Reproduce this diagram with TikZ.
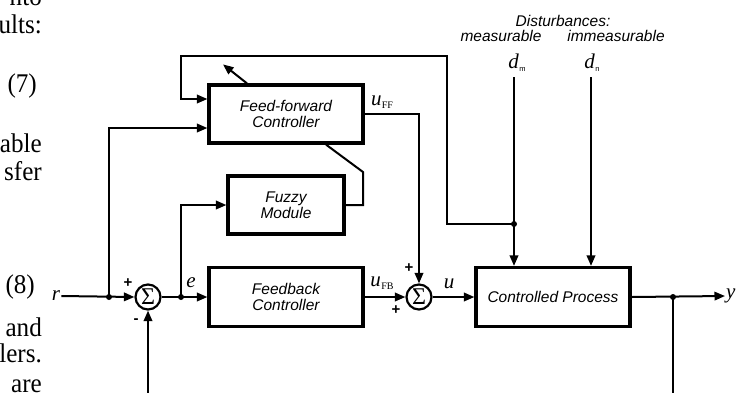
\documentclass[tikz,border=0pt]{standalone}
\usepackage{fontspec}
\setmainfont{Liberation Serif}
\setsansfont{Liberation Sans}
\usetikzlibrary{arrows.meta,calc}
\newcommand{\lbl}[2]{\textit{#1}\kern0.3pt\raisebox{-3pt}{\fontsize{10}{10}\selectfont #2}}
\newcommand{\dlbl}[2]{\textit{#1}\kern0.5pt\raisebox{-3pt}{\sffamily\fontsize{7.5}{7.5}\selectfont #2}}
\begin{document}
\begin{tikzpicture}[x=1pt,y=-1pt,
  blk/.style={draw, line width=3.2pt, align=center, inner sep=0pt,
    font=\sffamily\itshape\fontsize{15.5}{15.5}\selectfont},
  sumnode/.style={draw, circle, line width=2.2pt, minimum size=25pt, inner sep=0pt,
    font=\fontsize{24}{24}\selectfont},
  conn/.style={line width=2pt},
  arr/.style={conn, -{Triangle[length=10.5pt,width=8.5pt]}},
  jdot/.style={circle, fill, inner sep=0pt, minimum size=6pt},
  mathl/.style={font=\fontsize{21}{21}\selectfont, inner sep=1pt},
  sgn/.style={font=\sffamily\bfseries\fontsize{15}{15}\selectfont, inner sep=0pt},
  dist/.style={font=\sffamily\itshape\fontsize{15.5}{16}\selectfont, inner sep=0pt, anchor=base},
  page/.style={font=\fontsize{27}{28}\selectfont, inner sep=0pt, anchor=base east,
    xscale=0.93, transform shape}]
\useasboundingbox[fill=white] (0,0) rectangle (739,392);

% fragments of the surrounding page text
\node[page] (t1) at (42,5) {nto};
\node[page] (t2) at (42,33) {ults:};
\node[page] (t3) at (37,92) {(7)};
\node[page] (t4) at (42,152) {able};
\node[page] (t5) at (42,180) {sfer};
\node[page] (t6) at (35,293) {(8)};
\node[page] (t7) at (42,336) {and};
\node[page] (t8) at (42,362) {lers.};
\node[page] (t9) at (42,392) {are};

% blocks
\node[blk, minimum width=154pt, minimum height=58pt] (ff) at (286,114) {Feed-forward\\Controller};
\node[blk, minimum width=116pt, minimum height=58pt] (fz) at (286,205) {Fuzzy\\Module};
\node[blk, minimum width=154pt, minimum height=59pt] (fb) at (286,297) {Feedback\\Controller};
\node[blk, minimum width=154pt, minimum height=59pt] (cp) at (553,297) {Controlled Process};
\node[sumnode] (s1) at (148,297) {Σ};
\node[sumnode] (s2) at (419,297) {Σ};

% labels
\node[mathl] (r) at (56,296) {\textit{r}};
\node[mathl] (e) at (191,283) {\textit{e}};
\node[mathl] (uff) at (382,102) {\lbl{u}{FF}};
\node[mathl] (ufb) at (382,283) {\lbl{u}{FB}};
\node[mathl] (u) at (449,284) {\textit{u}};
\node[mathl, anchor=west] (y) at (725,296) {\textit{y}};
\node[sgn] (p1) at (128,283) {+};
\node[sgn] (m1) at (136,321) {-};
\node[sgn] (p2) at (409,268) {+};
\node[sgn] (p3) at (396,310) {+};

\node[dist] (dist) at (563,26) {Disturbances:};
\node[dist] (meas) at (501,41) {measurable};
\node[dist] (imm) at (616,41) {immeasurable};
\node[mathl] (dm) at (517,63) {\dlbl{d}{m}};
\node[mathl] (dn) at (592,63) {\dlbl{d}{n}};

% junctions
\node[jdot] (j1) at (109,297) {};
\node[jdot] (j2) at (181,297) {};
\node[jdot] (j3) at (673,297) {};
\node[jdot] (jd) at (514,224) {};

% connectors
\draw[arr] (r.east) -- (s1.west);
\draw[arr] (j1.center) |- ([yshift=-14pt]ff.west);
\draw[arr] (s1.east) -- (fb.west);
\draw[arr] (j2.center) |- (fz.west);
\draw[arr] (fb.east) -- (s2.west);
\draw[arr] (ff.east) -| (s2.north);
\draw[arr] (s2.east) -- (cp.west);
\draw[arr] (cp.east) -- (y.west);
\draw[arr] (j3.center) -- (673,396) -| (s1.south);
\draw[arr] (jd |- 0,77) -- (jd |- cp.north);
\draw[arr] (591,77) -- (591,0 |- cp.north);
\draw[arr] (jd.center) -| (447,56) -| (181,99) -- ([yshift=15pt]ff.west);
\draw[conn] (fz.east) -- (363,205) -- (363,172) -- ([xshift=40pt]ff.south);
\draw[arr] ([xshift=-39pt]ff.north) -- ++(-24,-19);
\end{tikzpicture}
\end{document}
